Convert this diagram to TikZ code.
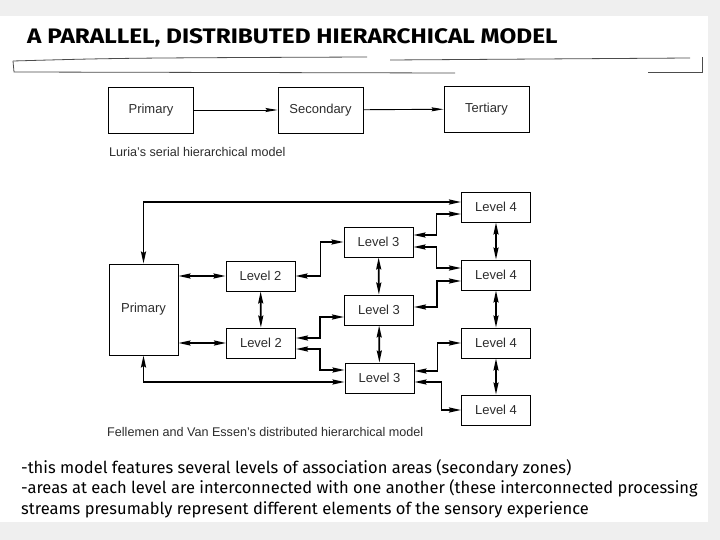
\documentclass[tikz,border=0pt]{standalone}
\usepackage{fontspec}
\setmainfont{Liberation Sans}
\newfontfamily\handfont{Fira Sans}
\newfontfamily\titlefont[FakeStretch=1.16]{Fira Sans}
\usepackage{tikz}
\usetikzlibrary{arrows.meta,positioning,calc}
\definecolor{slidegray}{RGB}{239,239,239}
\definecolor{boxtext}{RGB}{45,45,45}

\begin{document}
\begin{tikzpicture}[x=1pt, y=-1pt,
    box/.style={draw, line width=0.9pt, minimum width=69pt, minimum height=30pt, inner sep=0pt, font=\fontsize{13}{15}\selectfont, text=boxtext},
    sbox/.style={draw, line width=0.9pt, minimum width=85pt, minimum height=46pt, inner sep=0pt, font=\fontsize{13}{15}\selectfont, text=boxtext},
    arr/.style={-{Stealth[length=12pt,width=4pt,inset=1.5pt]}, line width=0.9pt},
    link/.style={{Stealth[length=12pt,width=5pt,inset=1.5pt]}-{Stealth[length=12pt,width=5pt,inset=1.5pt]}, line width=1.8pt},
    figcaption/.style={anchor=west, font=\fontsize{12.6}{14}\selectfont, text=boxtext, inner sep=0pt}
]
% slide background
\fill[slidegray] (0,0) rectangle (720,540);
\fill[white] (0,16) rectangle (708,522);
\useasboundingbox (0,0) rectangle (720,540);

% title and banner
\node[anchor=west, inner sep=0pt, font=\titlefont\bfseries\fontsize{21}{24}\selectfont] (title) at (27,38) {A PARALLEL, DISTRIBUTED HIERARCHICAL MODEL};
\draw[black!70, line width=0.8pt] (13,61) -- (14,72) -- (455,73);
\draw[black!70, line width=0.8pt] (13,61) .. controls (120,58) .. (367,57);
\draw[black!70, line width=0.8pt] (390,60) -- (690,58);
\draw[black!70, line width=0.8pt] (648,72) -- (702,72) -- (702,57);

% Luria's serial model
\node[sbox] (prim) at (151,110) {Primary};
\node[sbox] (sec) at (320.5,110) {Secondary};
\node[sbox] (tert) at (486.5,109) {Tertiary};
\draw[arr] (prim) -- (sec);
\draw[arr] (sec) -- (tert);
\node[figcaption] (luria) at (109,152) {Luria's serial hierarchical model};

% distributed model
\node[box, minimum height=91pt] (P) at (143.5,309.5) {Primary};
\node[box] (L2a) at (260.5,276) {Level 2};
\node[box] (L2b) at (261,343) {Level 2};
\node[box] (L3a) at (378.5,242) {Level 3};
\node[box] (L3b) at (379,310) {Level 3};
\node[box] (L3c) at (379.5,378) {Level 3};
\node[box] (L4a) at (496,207) {Level 4};
\node[box] (L4b) at (496,275) {Level 4};
\node[box] (L4c) at (496,343) {Level 4};
\node[box] (L4d) at (496,410) {Level 4};

\draw[link] ([yshift=5pt]L4a.west) -| (P.north);
\draw[link] ([yshift=-4pt]L3c.west) -| (P.south);
\draw[link] (L2a.west -| P.east) -- (L2a.west);
\draw[link] (L2b.west -| P.east) -- (L2b.west);
\draw[link] (L2a) -- (L2b);
\draw[link] (L2a.east) -- ++(25,0) |- (L3a.west);
\draw[link] ([yshift=5pt]L2b.east) -- ++(24,0) |- ([yshift=-7pt]L3b.west);
\draw[link] ([yshift=-6pt]L2b.east) -- ++(24,0) |- ([yshift=8pt]L3c.west);
\draw[link] (L3a) -- (L3b);
\draw[link] (L3b) -- (L3c);
\draw[link] ([yshift=7pt]L3a.east) -- ++(23,0) |- ([yshift=-7pt]L4a.west);
\draw[link] ([yshift=-5pt]L3a.east) -- ++(23,0) |- ([yshift=7pt]L4b.west);
\draw[link] ([yshift=3pt]L3b.east) -- ++(23,0) |- ([yshift=-6pt]L4b.west);
\draw[link] ([yshift=7pt]L3c.east) -- ++(23,0) |- (L4c.west);
\draw[link] ([yshift=-4pt]L3c.east) -- ++(27,0) |- (L4d.west);
\draw[link] (L4a) -- (L4b);
\draw[link] (L4b) -- (L4c);
\draw[link] (L4c) -- (L4d);
\node[figcaption] (fve) at (107,432) {Fellemen and Van Essen's distributed hierarchical model};

% notes
\node[anchor=north west, inner sep=0pt, align=left, font=\handfont\fontsize{16.5}{20.5}\selectfont] (notes) at (21,459) {-this model features several levels of association areas (secondary zones)\\
-areas at each level are interconnected with one another (these interconnected processing\\
streams presumably represent different elements of the sensory experience};
\end{tikzpicture}
\end{document}
